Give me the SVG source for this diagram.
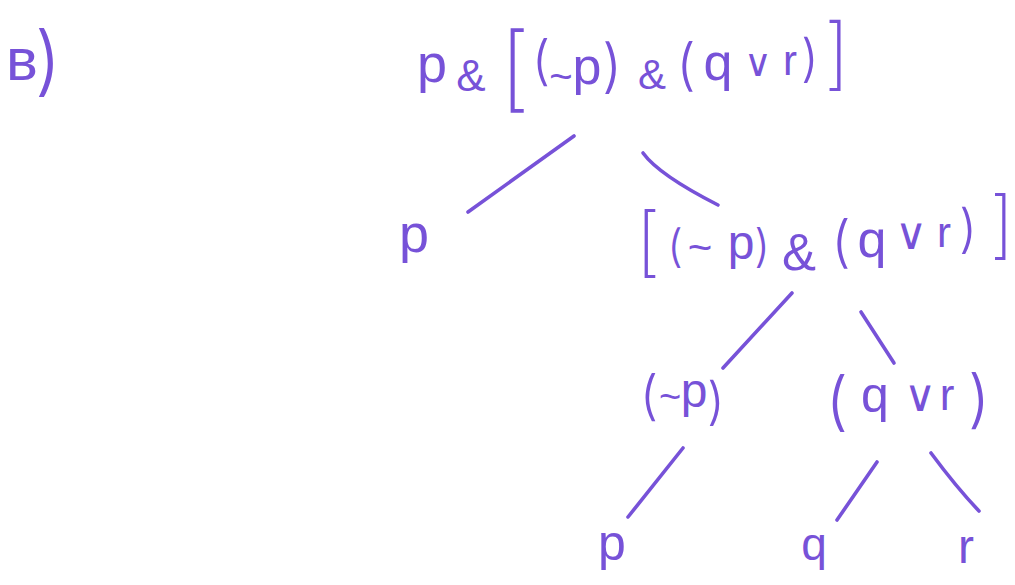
<svg xmlns="http://www.w3.org/2000/svg" width="1015" height="585" viewBox="0 0 1015 585">
<style>
  .t { font-family: "Liberation Sans", Arial, sans-serif; fill: #7752d8; text-anchor: middle; }
  .or { font-family: "DejaVu Sans", sans-serif; }
  .th { font-family: "Inter", "Liberation Sans", sans-serif; font-weight: 300; }
  .br { font-family: "Inter", "Liberation Sans", sans-serif; font-weight: 230; }
  .c { fill: none; stroke: #7752d8; stroke-width: 3.6; stroke-linecap: round; stroke-linejoin: round; }
</style>
<rect width="1015" height="585" fill="#ffffff"/>
<g id="label">
  <text class="t"><tspan x="22" y="80" font-size="60">в</tspan><tspan class="th" x="48" y="87" font-size="76">)</tspan></text>
</g>
<g id="connectors">
  <path class="c" d="M574,136 L468,212"/>
  <path class="c" d="M643,153 Q659,175 718,205"/>
  <path class="c" d="M792,293 L723,368"/>
  <path class="c" d="M861,312 L894,363"/>
  <path class="c" d="M683,448 L628,517"/>
  <path class="c" d="M877,462 L837,520"/>
  <path class="c" d="M931,453 Q957,488 979,511"/>
</g>
<g id="node-root">
  <text class="t"><tspan x="432" y="82" font-size="54">p</tspan><tspan x="471" y="91" font-size="44">&amp;</tspan><tspan class="br" x="515" y="100" font-size="93">[</tspan><tspan class="th" x="541" y="79" font-size="53">(</tspan><tspan x="561" y="90" font-size="40">~</tspan><tspan x="587" y="84" font-size="52">p</tspan><tspan class="th" x="612" y="86" font-size="58">)</tspan><tspan x="652" y="89" font-size="42">&amp;</tspan><tspan class="th" x="686" y="84" font-size="56">(</tspan><tspan x="718" y="80" font-size="52">q</tspan><tspan class="or" x="758" y="76" font-size="38">∨</tspan><tspan x="790" y="75" font-size="42">r</tspan><tspan class="th" x="810" y="76" font-size="51">)</tspan><tspan class="br" x="837" y="80" font-size="78">]</tspan></text>
</g>
<g id="node-p1">
  <text class="t" x="414" y="252" font-size="54">p</text>
</g>
<g id="node-right">
  <text class="t"><tspan class="br" x="648" y="268" font-size="76">[</tspan><tspan class="th" x="675" y="262" font-size="45">(</tspan><tspan x="700" y="262" font-size="42">~</tspan><tspan x="741" y="259" font-size="48">p</tspan><tspan class="th" x="762" y="262" font-size="45">)</tspan><tspan x="799" y="270" font-size="51">&amp;</tspan><tspan class="th" x="841" y="261" font-size="56">(</tspan><tspan x="872" y="257" font-size="52">q</tspan><tspan class="or" x="911" y="249" font-size="44">∨</tspan><tspan x="944" y="247" font-size="42">r</tspan><tspan class="th" x="968" y="247" font-size="52">)</tspan><tspan class="br" x="1002" y="250" font-size="74">]</tspan></text>
</g>
<g id="node-negp">
  <text class="t"><tspan class="th" x="649" y="414" font-size="53">(</tspan><tspan x="670" y="410" font-size="38">~</tspan><tspan x="694" y="407" font-size="48">p</tspan><tspan class="th" x="716" y="419" font-size="51">)</tspan></text>
</g>
<g id="node-qvr">
  <text class="t"><tspan class="th" x="837" y="423" font-size="64">(</tspan><tspan x="875" y="412" font-size="50">q</tspan><tspan class="or" x="920" y="411" font-size="44">∨</tspan><tspan x="947" y="410" font-size="44">r</tspan><tspan class="th" x="979" y="421" font-size="63">)</tspan></text>
</g>
<g id="node-p2">
  <text class="t" x="612" y="560" font-size="50">p</text>
</g>
<g id="node-q">
  <text class="t" x="814" y="560" font-size="46">q</text>
</g>
<g id="node-r">
  <text class="t" x="966" y="563" font-size="48">r</text>
</g>
</svg>
